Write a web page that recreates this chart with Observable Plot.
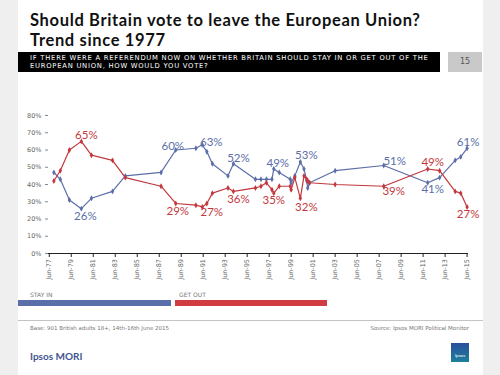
<!DOCTYPE html>
<html><head><meta charset="utf-8">
<script src="https://cdn.jsdelivr.net/npm/d3@7"></script>
<script src="https://cdn.jsdelivr.net/npm/@observablehq/plot@0.6"></script>
<style>
html,body{margin:0;padding:0;}
body{width:500px;height:375px;background:#efefef;position:relative;overflow:hidden;font-family:Lato,"DejaVu Sans",sans-serif;}
#slide{position:absolute;left:18px;top:0;width:465px;height:375px;background:#fff;}
.abs{position:absolute;white-space:nowrap;}
.title{left:30px;font-weight:700;font-size:16.5px;line-height:20px;color:#111;letter-spacing:0.65px;}
#qbar{left:18px;top:52px;width:422px;height:20px;background:#000;}
.qtext{left:30px;color:#fff;font-family:"DejaVu Sans",sans-serif;font-size:6.8px;line-height:8px;text-transform:uppercase;letter-spacing:0.75px;}
#pnum{left:448px;top:52px;width:34px;height:20px;background:#c9c9c9;color:#555;font-family:"DejaVu Sans",sans-serif;font-size:8px;line-height:20px;text-align:center;}
#chart{left:0;top:105px;}
.legtxt{font-family:"DejaVu Sans",sans-serif;font-size:6px;color:#777;top:291px;}
.legbar{top:300px;height:5.5px;}
#foot{left:18px;top:320px;width:465px;height:1px;background:#c4c4c4;}
.ftxt{font-family:"DejaVu Sans",sans-serif;font-size:5.5px;color:#777;top:325px;}
#brand{left:30px;top:350px;font-size:10px;font-weight:700;color:#3f5590;}
#logo{left:451px;top:343px;width:18px;height:19px;background:linear-gradient(180deg,#2a4f9c,#1d7f9c);color:#fff;font-size:4.5px;text-align:center;line-height:26px;}
</style></head><body>
<div id="slide"></div>
<div class="abs title" style="top:9.5px">Should Britain vote to leave the European Union?</div>
<div class="abs title" style="top:29.5px">Trend since 1977</div>
<div id="qbar" class="abs"></div>
<div class="abs qtext" style="top:53.5px">If there were a referendum now on whether Britain should stay in or get out of the</div>
<div class="abs qtext" style="top:61.5px">European Union, how would you vote?</div>
<div id="pnum" class="abs">15</div>
<div id="chart" class="abs"></div>
<div class="abs legtxt" style="left:30px">STAY IN</div>
<div class="abs legbar" style="left:18px;width:153px;background:#5a6eaa"></div>
<div class="abs legtxt" style="left:179px">GET OUT</div>
<div class="abs legbar" style="left:175px;width:152px;background:#d03c42"></div>
<div id="foot" class="abs"></div>
<div class="abs ftxt" style="left:30px">Base: 901 British adults 18+, 14th-16th June 2015</div>
<div class="abs ftxt" style="right:31px">Source: Ipsos MORI Political Monitor</div>
<div id="brand" class="abs">Ipsos MORI</div>
<div id="logo" class="abs">Ipsos</div>
<script>
// ---- data ----
const dates = ["1977-11","1978-06","1979-04","1980-05","1981-04","1983-03","1984-05","1987-08","1988-12","1990-10",
  "1991-05","1991-10","1992-04","1993-09","1994-03","1996-03","1996-09","1997-03","1997-09","1997-11",
  "1998-05","1999-05","1999-06","1999-10","2000-04","2000-08","2000-11","2000-12","2001-02","2003-06",
  "2007-11","2011-11","2012-12","2014-05","2014-11","2015-06"];
const stayIn = [47,43,31,26,32,36,45,47,60,61, 63,59,52,45,52,43,43,43,43,49, 47,43,41,45,53,49,42,38,41,48, 51,41,44,54,56,61];
const getOut = [42,48,60,65,57,54,44,39,29,28, 27,29,35,38,36,38,39,41,37,35, 39,39,37,44,32,45,43,42,41,40, 39,49,48,36,35,27];
const labelIdx = [3,8,10,14,19,24,30,31,35];
const tickLabels = ["Jun-77","Jun-79","Jun-81","Jun-83","Jun-85","Jun-87","Jun-89","Jun-91","Jun-93","Jun-95",
  "Jun-97","Jun-99","Jun-01","Jun-03","Jun-05","Jun-07","Jun-09","Jun-11","Jun-13","Jun-15"];
const yTicks = [0,10,20,30,40,50,60,70,80];
const seriesNames = ["Stay in","Get out"];

// ---- build ----
const monthIdx = {Jan:0,Feb:1,Mar:2,Apr:3,May:4,Jun:5,Jul:6,Aug:7,Sep:8,Oct:9,Nov:10,Dec:11};
const parseYM = s => { const [y,m] = s.split("-").map(Number); return new Date(Date.UTC(y, m-1, 15)); };
const parseTick = s => { const [mon,yy] = s.split("-"); const n = +yy; return new Date(Date.UTC(n >= 50 ? 1900+n : 2000+n, monthIdx[mon], 15)); };
const tickDates = tickLabels.map(parseTick);
const tickText = new Map(tickDates.map((d,i)=>[+d, tickLabels[i]]));

const rows = [];
dates.forEach((d,i)=>{
  rows.push({date: parseYM(d), value: stayIn[i], series: seriesNames[0], i});
  rows.push({date: parseYM(d), value: getOut[i], series: seriesNames[1], i});
});
const colors = {"Stay in":"#5b6ea8", "Get out":"#c3383d"};

// label offsets (px) for the annotated points
const offStay = [[4,8],[-3,-4],[9,-3],[5,-5],[4,-5.5],[6,-7],[11,-4],[5,7],[1,-6]];
const offOut  = [[5,-6],[2,7.5],[9.5,5],[5,8],[0,7],[6,9],[10,5],[5,-6.5],[1,7]];

const labelMarks = [];
labelIdx.forEach((idx,k)=>{
  [[seriesNames[0], offStay[k]],[seriesNames[1], offOut[k]]].forEach(([s,o])=>{
    const r = rows.filter(d=>d.i===idx && d.series===s);
    labelMarks.push(Plot.text(r, {x:"date", y:"value", text:d=>d.value+"%", dx:o[0], dy:o[1],
      fill:colors[s], fontSize:11.5, fontFamily:"Lato, 'DejaVu Sans', sans-serif"}));
  });
});

const chart = Plot.plot({
  width:500, height:190, marginTop:10, marginBottom:42, marginLeft:48, marginRight:32,
  style:{background:"transparent", fontFamily:"'DejaVu Sans', sans-serif", fontSize:"6.5px", color:"#666"},
  x:{type:"utc", domain:[new Date(Date.UTC(1977,4,20)), new Date(Date.UTC(2015,7,1))]},
  y:{domain:[0,80]},
  marks:[
    Plot.axisY({ticks:yTicks, tickFormat:d=>d+"%", tickSize:3, tickPadding:4, label:null, stroke:"#888"}),
    Plot.axisX({ticks:tickDates, tickFormat:d=>tickText.get(+d), tickRotate:-90, tickSize:4, tickPadding:1.5, label:null, stroke:"#222"}),
    Plot.ruleY([0], {stroke:"#222", strokeWidth:1}),
    Plot.line(rows, {x:"date", y:"value", z:"series", stroke:d=>colors[d.series], strokeWidth:1.2}),
    Plot.dot(rows, {x:"date", y:"value", symbol:"diamond", r:1.8, fill:d=>colors[d.series]}),
    ...labelMarks
  ]
});
document.getElementById("chart").appendChild(chart);
</script>
</body></html>
